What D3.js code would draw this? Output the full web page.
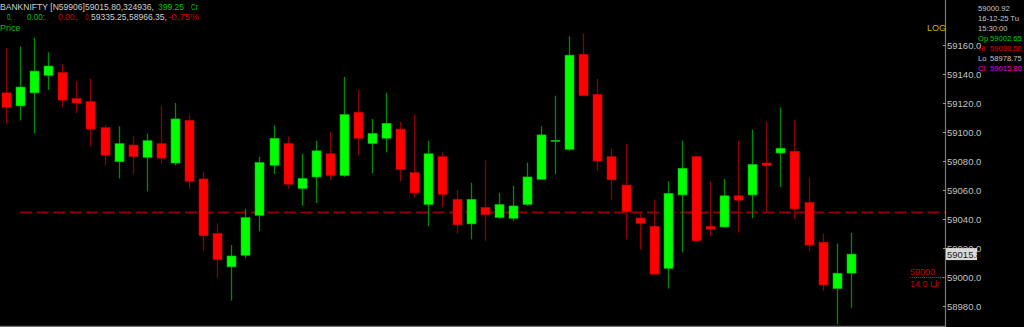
<!DOCTYPE html>
<html>
<head>
<meta charset="utf-8">
<script src="https://cdn.jsdelivr.net/npm/d3@7/dist/d3.min.js"></script>
<style>
html,body{margin:0;padding:0;background:#000;overflow:hidden;}
svg{display:block;}
text{font-family:"Liberation Sans",Arial,sans-serif;}
</style>
</head>
<body>
<svg id="chart" width="1024" height="327"></svg>
<script>
// ---- data (BANKNIFTY intraday candles) ----
const opens  = [59127,59118,59127,59139,59141,59123,59121,59103,59079.5,59091,59082.5,59092,59078.6,59108,59067.6,59030,59007,59015,59042.5,59077,59092,59061,59069,59085,59070,59113.6,59092,59095.7,59102,59072,59050,59083,59053.6,59036.6,59048,59041,59040.5,59050,59067.4,59094.3,59088,59153.6,59126,59083,59063.4,59040.7,59035,59006,59056.6,59083,59035,59034.5,59056,59056.6,59078.6,59085.5,59086.7,59051.5,59024,58992,59002.65];
const highs  = [59158,59159,59165,59155,59147,59135,59137,59105,59104,59097,59099,59118,59120,59112,59072.6,59037,59022,59047,59083,59104.6,59097,59085,59094,59100,59138,59129,59109,59127,59107,59112,59094,59086,59060,59065,59080.5,59058,59063,59079,59104,59125,59166,59168,59136.6,59088.5,59092,59045,59053,59066,59094,59083.6,59066,59067.6,59094,59101.6,59107,59117,59108,59068.5,59030,59023,59030.5];
const lows   = [59106,59108,59099,59129,59117,59113,59090,59077,59068,59071,59059,59078,59077,59061,59018,58999.5,58983.7,59013,59031.5,59071,59061,59049,59051,59067,59069,59084,59071.5,59086,59066,59055,59035,59048,59030,59026,59025,59040,59038.6,59049,59067,59071,59087,59125,59073,59053,59026,59019,59001.4,58992,59017,59025,59028,59034,59030.6,59040.5,59045,59062,59040,59018,58990.6,58967.4,58978.75];
const closes = [59117,59131,59142,59145.5,59122,59120,59102,59084,59092,59083,59094,59082,59109,59066,59028.5,59012,59014.5,59041,59079,59095.7,59064,59068,59087,59070,59112,59095.7,59099,59106,59074,59058,59085,59057,59036,59053.6,59043,59050,59049,59069,59098,59094.3,59153,59125,59080,59067,59045,59037,59002,59057.7,59075,59025,59033,59056,59053,59077.7,59076.8,59088.8,59047,59022,58994.5,59002.6,59015.8];
const tickValues = [58980,59000,59020,59040,59060,59080,59100,59120,59140,59160];
const tickLabels = ["58980.0","59000.0","59020.0","59040.0","59060.0","59080.0","59100.0","59120.0","59140.0","59160.0"];
const refLevel = 59045;        // dashed reference line
const lastPrice = 59015.8;     // price tag on axis
const markLevel = 59000;       // red level marker
const markLabels = ["59000","14.0 Lk"];
const headerLine1 = [["BANKNIFTY [N59906]59015.80,324936,","#d0d0d0"],["399.25","#00c000"],["Cr","#00c000"]];
const headerLine2 = [["0,","#00c000"],["0.00:","#00c000"],["0.00,","#d00000"],["0,","#d00000"],["59335.25,58966.35,","#d0d0d0"],["-0.75%","#d00000"]];
const infoLines = [["","59000.92","#c8c8c8"],["","16-12-25 Tu","#c8c8c8"],["","15:30:00","#c8c8c8"],["Op","59002.65","#00d000"],["Hi","59030.50","#e00000"],["Lo","58978.75","#c8c8c8"],["Cl","59015.80","#e000e0"]];

// ---- layout ----
const svg = d3.select("#chart");
const W = 1024, H = 327;
const axisX = 945, bottomY = 326;
svg.append("rect").attr("width",W).attr("height",H).attr("fill","#000");

const y = d3.scaleLinear().domain([58980, 59160]).range([306, 45]);
const x = d3.scaleLinear().domain([0, opens.length-1]).range([6, 850.8]);
const bodyW = 9;

// clip
svg.append("clipPath").attr("id","plot").append("rect").attr("x",0).attr("y",0).attr("width",axisX).attr("height",bottomY);
const plot = svg.append("g").attr("clip-path","url(#plot)");

// dashed reference line
plot.append("line")
  .attr("x1",20).attr("x2",axisX)
  .attr("y1",Math.round(y(refLevel))+0.5).attr("y2",Math.round(y(refLevel))+0.5)
  .attr("stroke","#900000").attr("stroke-width",2).attr("stroke-dasharray","12,4.5");

// candles
const data = opens.map((o,i)=>({i,o,h:highs[i],l:lows[i],c:closes[i]}));
const cg = plot.selectAll("g.c").data(data).join("g").attr("class","c");
cg.append("line")
  .attr("x1",d=>Math.round(x(d.i))+0.5).attr("x2",d=>Math.round(x(d.i))+0.5)
  .attr("y1",d=>y(d.h)).attr("y2",d=>y(d.l))
  .attr("stroke",d=>d.c>=d.o?"#008a00":"#8b0000").attr("stroke-width",1.3);
cg.append("rect")
  .attr("x",d=>Math.round(x(d.i))+0.5-bodyW/2)
  .attr("y",d=>y(Math.max(d.o,d.c)))
  .attr("width",bodyW)
  .attr("height",d=>Math.max(1.2, Math.abs(y(d.o)-y(d.c))))
  .attr("fill",d=>d.c>=d.o?"#00ff00":"#ff0000")
  .attr("stroke",d=>d.c>=d.o?"#00b400":"#c00000").attr("stroke-width",0.6);

// right axis
svg.append("line").attr("x1",axisX+0.5).attr("x2",axisX+0.5).attr("y1",0).attr("y2",bottomY+1)
  .attr("stroke","#7a7a7a").attr("stroke-width",1.2);
svg.append("line").attr("x1",0).attr("x2",axisX).attr("y1",bottomY+0.5).attr("y2",bottomY+0.5)
  .attr("stroke","#6e6e6e").attr("stroke-width",1.5);

const axis = d3.axisRight(y).tickValues(tickValues).tickSize(3).tickPadding(1)
  .tickFormat((d,i)=>tickLabels[i]);
const ag = svg.append("g").attr("transform",`translate(${axisX-2},0)`).call(axis);
ag.select(".domain").remove();
ag.selectAll(".tick line").attr("stroke","#9a9a9a");
ag.selectAll(".tick text").attr("fill","#c0c0c0").attr("font-size",9.5).attr("font-family","Liberation Sans, Arial, sans-serif");

// last price tag (drawn over the axis labels, as in the terminal)
const lpY = y(lastPrice);
svg.append("rect").attr("x",946).attr("y",lpY-6).attr("width",31).attr("height",12).attr("fill","#d9d9d9");
svg.append("text").attr("x",947).attr("y",lpY+3.5).attr("font-size",9.5).attr("fill","#202020")
  .text(lastPrice.toFixed(1));

// red level marker
const mY = Math.round(y(markLevel))+0.5;
svg.append("line").attr("x1",910).attr("x2",axisX).attr("y1",mY).attr("y2",mY)
  .attr("stroke","#c00000").attr("stroke-width",1).attr("stroke-dasharray","1,1");
svg.append("text").attr("x",910).attr("y",mY-3).attr("font-size",9).attr("fill","#c00000").text(markLabels[0]);
svg.append("text").attr("x",910).attr("y",mY+9).attr("font-size",9).attr("fill","#c00000").text(markLabels[1]);

// LOG label
svg.append("text").attr("x",927).attr("y",31).attr("font-size",9).attr("fill","#c8b400").text("LOG");

// header
const h1x = [0,158,191], h1w = [154,26,7];
headerLine1.forEach((s,k)=>{
  svg.append("text").attr("x",h1x[k]).attr("y",9.5).attr("font-size",8.5).attr("fill",s[1])
    .attr("textLength",h1w[k]).attr("lengthAdjust","spacingAndGlyphs").text(s[0]);
});
const h2x = [7,27,58,85,91,168], h2w = [5,18,19,5,76,31];
headerLine2.forEach((s,k)=>{
  svg.append("text").attr("x",h2x[k]).attr("y",19.5).attr("font-size",8.5).attr("fill",s[1])
    .attr("textLength",h2w[k]).attr("lengthAdjust","spacingAndGlyphs").text(s[0]);
});
svg.append("text").attr("x",0).attr("y",30.5).attr("font-size",9).attr("fill","#00c000").text("Price");

// info panel (one text per line, fitted inside the right edge)
infoLines.forEach((s,k)=>{
  const by = 10.5 + k*10;
  const t = svg.append("text").attr("y",by).attr("font-size",7.6).attr("fill",s[2]);
  if(s[0]){
    t.append("tspan").attr("x",978).text(s[0]);
    t.append("tspan").attr("x",990).text(s[1]);
  } else {
    t.append("tspan").attr("x",978).text(s[1]);
  }
});
</script>
</body>
</html>
